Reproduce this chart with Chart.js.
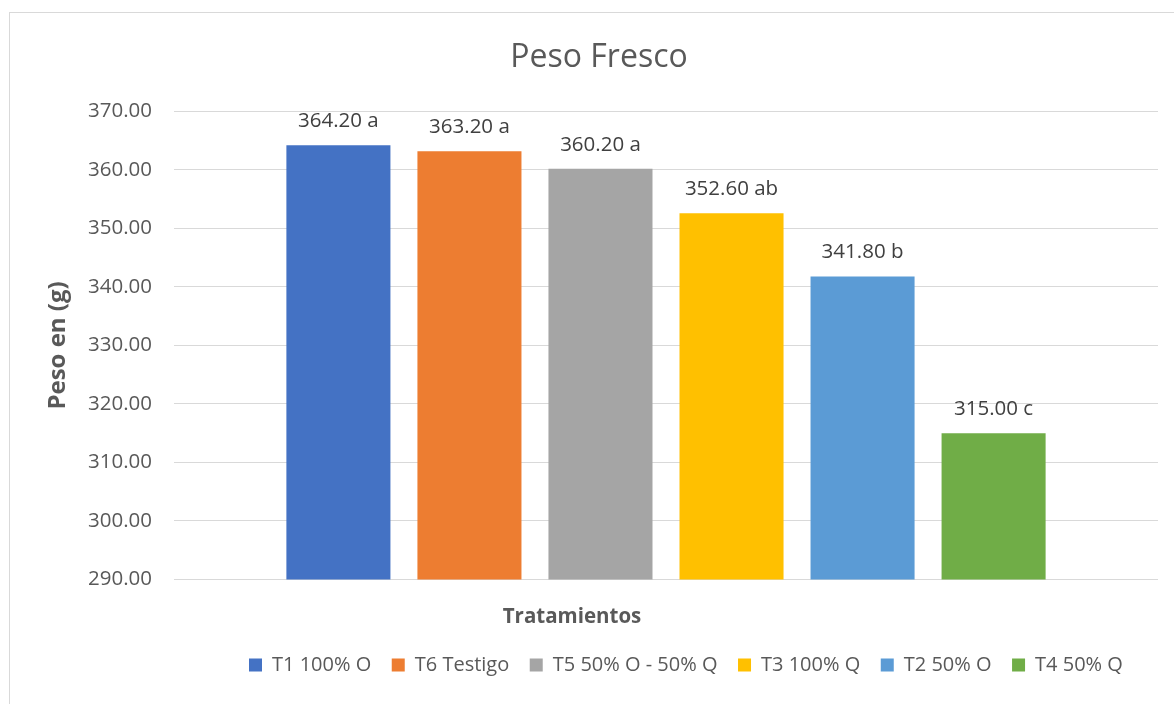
<!DOCTYPE html>
<html>
<head>
<meta charset="utf-8">
<script src="https://cdn.jsdelivr.net/npm/chart.js@4"></script>
<style>
  html, body { margin: 0; padding: 0; background: #fff; overflow: hidden; width: 1174px; height: 704px; }
  #frame { position: absolute; left: 9px; top: 12px; width: 1250px; height: 800px; border: 1px solid #d9d9d9; box-sizing: border-box; }
  #wrap { position: absolute; left: 0; top: 0; width: 1198px; height: 704px; }
</style>
</head>
<body>
<div id="frame"></div>
<div id="wrap"><canvas id="c"></canvas></div>
<script>
const categories = [''];
const seriesNames = ['T1 100% O', 'T6 Testigo', 'T5 50% O - 50% Q', 'T3 100% Q', 'T2 50% O', 'T4 50% Q'];
const seriesValues = [364.20, 363.20, 360.20, 352.60, 341.80, 315.00];
const seriesLetters = ['a', 'a', 'a', 'ab', 'b', 'c'];
const seriesColors = ['#4472C4', '#ED7D31', '#A5A5A5', '#FFC000', '#5B9BD5', '#70AD47'];
const yTicks = [290, 300, 310, 320, 330, 340, 350, 360, 370];

const FONT = "'Open Sans', 'Noto Sans', sans-serif";

const datasets = seriesNames.map((name, i) => ({
  label: name,
  data: [seriesValues[i]],
  backgroundColor: seriesColors[i],
  borderWidth: 0,
  categoryPercentage: 0.799,
  barPercentage: 0.794
}));

const labelPlugin = {
  id: 'barLabels',
  afterDatasetsDraw(chart) {
    const ctx = chart.ctx;
    ctx.save();
    ctx.font = "20.5px " + FONT;
    ctx.fillStyle = '#404040';
    ctx.textAlign = 'center';
    ctx.textBaseline = 'alphabetic';
    chart.data.datasets.forEach((ds, i) => {
      const meta = chart.getDatasetMeta(i);
      meta.data.forEach((el, j) => {
        const v = ds.data[j];
        ctx.fillText(v.toFixed(2) + ' ' + seriesLetters[i], el.x, el.y - 18);
      });
    });
    ctx.restore();
  }
};

const placement = {
  id: 'placement',
  afterLayout(chart) {
    const l = chart.legend;
    const w = l.right - l.left;
    const h = l.bottom - l.top;
    l.left = 228.5; l.right = 228.5 + w;
    l.top = 634.5; l.bottom = 634.5 + h;
    const t = chart.titleBlock;
    t.left += 20; t.right += 20;
    const sx = chart.scales.x;
    if (!sx._origDrawTitle) {
      sx._origDrawTitle = sx.drawTitle;
      sx.drawTitle = function () {
        const ctx = this.ctx;
        ctx.save();
        ctx.translate(-94, 4);
        this._origDrawTitle();
        ctx.restore();
      };
    }
  }
};

new Chart(document.getElementById('c'), {
  type: 'bar',
  data: { labels: categories, datasets },
  options: {
    responsive: true,
    maintainAspectRatio: false,
    animation: false,
    layout: { padding: { left: 0, right: 40, top: 0, bottom: 28 } },
    plugins: {
      title: {
        display: true,
        text: 'Peso Fresco',
        color: '#595959',
        font: { family: FONT, size: 32, weight: 'normal' },
        padding: { top: 39, bottom: 34 }
      },
      legend: {
        position: 'bottom',
        align: 'start',
        labels: {
          color: '#595959',
          font: { family: FONT, size: 20 },
          boxWidth: 13,
          boxHeight: 13,
          padding: 20.5
        }
      },
      tooltip: { enabled: false }
    },
    scales: {
      x: {
        grid: { display: false, drawTicks: false },
        border: { display: false },
        ticks: { display: false },
        title: {
          display: true,
          text: 'Tratamientos',
          color: '#595959',
          font: { family: FONT, size: 20.5, weight: 'bold' },
          padding: { top: 0, bottom: 0 }
        },
        afterFit(scale) { scale.height = 46; }
      },
      y: {
        min: yTicks[0],
        max: yTicks[yTicks.length - 1],
        afterBuildTicks(scale) { scale.ticks = yTicks.map(v => ({ value: v })); },
        grid: { color: '#d9d9d9', lineWidth: 1, drawTicks: false },
        border: { display: false },
        ticks: {
          color: '#595959',
          font: { family: FONT, size: 20.5 },
          padding: 22,
          callback: v => Number(v).toFixed(2)
        },
        title: {
          display: true,
          text: 'Peso en (g)',
          color: '#595959',
          font: { family: FONT, size: 24, weight: 'bold' },
          padding: { top: 44, bottom: 0 }
        },
        afterFit(scale) { scale.width = 174; }
      }
    }
  },
  plugins: [labelPlugin, placement]
});
</script>
</body>
</html>
